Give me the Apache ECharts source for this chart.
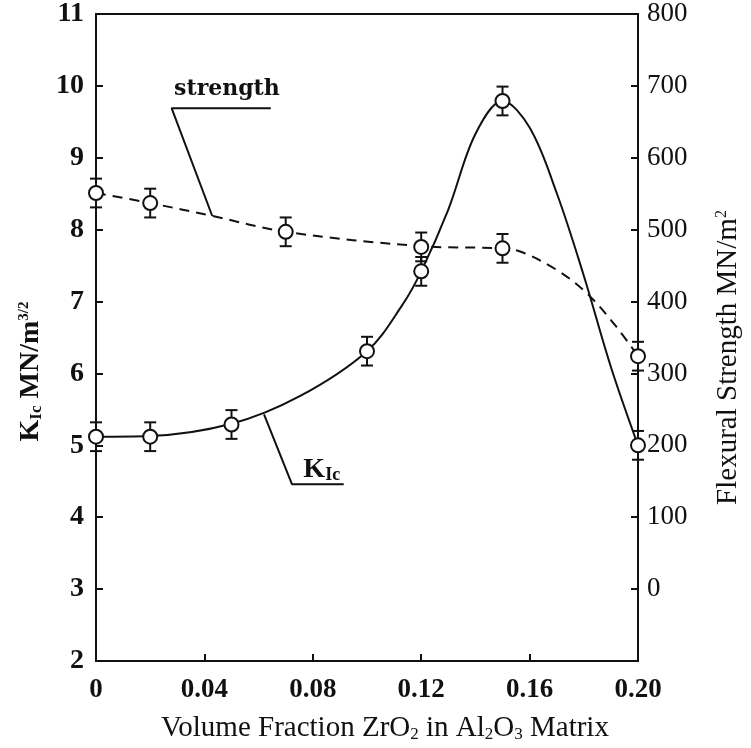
<!DOCTYPE html>
<html>
<head>
<meta charset="utf-8">
<script src="https://cdn.jsdelivr.net/npm/echarts@6/dist/echarts.min.js"></script>
<style>
html, body { margin: 0; padding: 0; background: #fff; }
#box { width: 751px; height: 748px; }
</style>
</head>
<body>
<div id="box"></div>
<script>
// measured points, x = volume fraction ZrO2
var kicX = [0, 0.02, 0.05, 0.10, 0.12, 0.15, 0.20]
var kicY = [5.12, 5.12, 5.29, 6.31, 7.42, 9.79, 5.0]
var kicErr = [0.2, 0.2, 0.2, 0.2, 0.2, 0.2, 0.2]
var strX = [0, 0.02, 0.07, 0.12, 0.15, 0.20]
var strY = [551, 537, 497, 476, 474, 324]
var strErr = [20, 20, 20, 20, 20, 20]
// the hand drawn curves
var kicCurveX = [0, 0.02, 0.05, 0.075, 0.10, 0.113, 0.12, 0.13, 0.14, 0.15, 0.16, 0.17, 0.18, 0.19, 0.20]
var kicCurveY = [5.12, 5.13, 5.30, 5.68, 6.31, 6.95, 7.42, 8.28, 9.33, 9.79, 9.42, 8.51, 7.36, 6.09, 5.0]
var strCurveX = [0, 0.02, 0.043, 0.07, 0.12, 0.15, 0.157, 0.17, 0.181, 0.192, 0.20]
var strCurveY = [551, 537, 519, 497, 477, 474, 469, 444, 412, 365, 324]
// leader lines for the two curve labels (x, KIc units)
var strLeader = [[0.0645, 9.69], [0.0279, 9.69], [0.0429, 8.19]]
var kicLeader = [[0.062, 5.43], [0.0723, 4.46], [0.0914, 4.46]]
var strLabelAt = [0.029, 9.95]
var kicLabelAt = [0.0767, 4.65]

var FONT = 'Liberation Serif'
var INK = '#111'

function zip(xs, ys) {
  return xs.map(function (x, i) { return [x, ys[i]] })
}
function errData(xs, ys, es) {
  return xs.map(function (x, i) { return [x, ys[i] - es[i], ys[i] + es[i]] })
}
function errBar(params, api) {
  var x = api.value(0)
  var lo = api.coord([x, api.value(1)])
  var hi = api.coord([x, api.value(2)])
  var w = 6
  var st = { stroke: INK, lineWidth: 2 }
  return {
    type: 'group',
    children: [
      { type: 'line', shape: { x1: hi[0], y1: hi[1], x2: lo[0], y2: lo[1] }, style: st },
      { type: 'line', shape: { x1: hi[0] - w, y1: hi[1], x2: hi[0] + w, y2: hi[1] }, style: st },
      { type: 'line', shape: { x1: lo[0] - w, y1: lo[1], x2: lo[0] + w, y2: lo[1] }, style: st }
    ]
  }
}

var markerStyle = { color: '#fff', borderColor: INK, borderWidth: 2, opacity: 1 }

var option = {
  animation: false,
  backgroundColor: '#fff',
  grid: {
    left: 96, right: 110, top: 14, bottom: 86,
    show: true, borderColor: INK, borderWidth: 2
  },
  xAxis: {
    type: 'value', min: 0, max: 0.2, interval: 0.04,
    axisLine: { onZero: false, lineStyle: { color: INK, width: 2 } },
    axisTick: { inside: true, length: 7, lineStyle: { color: INK, width: 2 } },
    splitLine: { show: false },
    axisLabel: {
      color: INK, fontFamily: FONT, fontWeight: 'bold', fontSize: 27, margin: 16,
      formatter: function (v) { return v === 0 ? '0' : v.toFixed(2) }
    },
    name: '{t|Volume Fraction ZrO}{s|2}{t| in Al}{s|2}{t|O}{s|3}{t| Matrix}',
    nameLocation: 'middle', nameGap: 53,
    nameTextStyle: {
      padding: [0, 0, 0, 36],
      rich: {
        t: { fontFamily: FONT, fontSize: 29, color: INK },
        s: { fontFamily: FONT, fontSize: 17, color: INK, verticalAlign: 'bottom' }
      }
    }
  },
  yAxis: [
    {
      type: 'value', min: 2, max: 11, interval: 1, position: 'left',
      axisLine: { show: true, lineStyle: { color: INK, width: 2 } },
      axisTick: { show: true, inside: true, length: 7, lineStyle: { color: INK, width: 2 } },
      splitLine: { show: false },
      axisLabel: { color: INK, fontFamily: FONT, fontWeight: 'bold', fontSize: 28, margin: 12 },
      name: '{k|K}{s|Ic}{k| MN/m}{p|3/2}',
      nameLocation: 'middle', nameRotate: 90, nameGap: 50,
      nameTextStyle: {
        padding: [0, 68, 0, 0],
        rich: {
          k: { fontFamily: FONT, fontWeight: 'bold', fontSize: 28, color: INK },
          s: { fontFamily: FONT, fontWeight: 'bold', fontSize: 17, color: INK, verticalAlign: 'bottom' },
          p: { fontFamily: FONT, fontWeight: 'bold', fontSize: 15, color: INK, verticalAlign: 'top' }
        }
      }
    },
    {
      type: 'value', min: -100, max: 800, interval: 100, position: 'right',
      axisLine: { show: true, lineStyle: { color: INK, width: 2 } },
      axisTick: { show: true, inside: true, length: 7, lineStyle: { color: INK, width: 2 } },
      splitLine: { show: false },
      axisLabel: {
        color: INK, fontFamily: FONT, fontSize: 27, margin: 9,
        formatter: function (v) { return v < 0 ? '' : String(v) }
      },
      name: '{t|Flexural Strength MN/m}{p|2}',
      nameLocation: 'middle', nameRotate: 90, nameGap: 76,
      nameTextStyle: {
        padding: [0, 40, 0, 0],
        rich: {
          t: { fontFamily: FONT, fontSize: 29, color: INK },
          p: { fontFamily: FONT, fontSize: 16, color: INK, verticalAlign: 'top' }
        }
      }
    }
  ],
  series: [
    {
      name: 'KIc curve', type: 'line', yAxisIndex: 0, smooth: 0.35, symbol: 'none', silent: true,
      lineStyle: { color: INK, width: 2 },
      data: zip(kicCurveX, kicCurveY)
    },
    {
      name: 'strength curve', type: 'line', yAxisIndex: 1, smooth: 0.35, symbol: 'none', silent: true,
      lineStyle: { color: INK, width: 2, type: [10, 7] },
      data: zip(strCurveX, strCurveY)
    },
    {
      type: 'custom', yAxisIndex: 0, renderItem: errBar, silent: true, z: 3,
      data: errData(kicX, kicY, kicErr)
    },
    {
      type: 'custom', yAxisIndex: 1, renderItem: errBar, silent: true, z: 3,
      data: errData(strX, strY, strErr)
    },
    {
      name: 'KIc', type: 'scatter', yAxisIndex: 0, symbol: 'circle', symbolSize: 14, z: 5, clip: false,
      itemStyle: markerStyle, data: zip(kicX, kicY)
    },
    {
      name: 'strength', type: 'scatter', yAxisIndex: 1, symbol: 'circle', symbolSize: 14, z: 5, clip: false,
      itemStyle: markerStyle, data: zip(strX, strY)
    },
    // curve labels with their leader lines
    {
      type: 'line', yAxisIndex: 0, symbol: 'none', silent: true,
      lineStyle: { color: INK, width: 2 }, data: strLeader
    },
    {
      type: 'line', yAxisIndex: 0, symbol: 'none', silent: true,
      lineStyle: { color: INK, width: 2 }, data: kicLeader
    },
    {
      type: 'scatter', yAxisIndex: 0, symbolSize: 1, silent: true, z: 6,
      itemStyle: { color: 'rgba(0,0,0,0)', opacity: 1 },
      label: {
        show: true, position: [0, 0], align: 'left', verticalAlign: 'middle',
        formatter: 'strength', color: INK, opacity: 1,
        fontFamily: 'DejaVu Serif', fontWeight: 'bold', fontSize: 22
      },
      data: [strLabelAt]
    },
    {
      type: 'scatter', yAxisIndex: 0, symbolSize: 1, silent: true, z: 6,
      itemStyle: { color: 'rgba(0,0,0,0)', opacity: 1 },
      label: {
        show: true, position: [0, 0], align: 'left', verticalAlign: 'middle', opacity: 1,
        formatter: '{k|K}{s|Ic}',
        rich: {
          k: { fontFamily: FONT, fontWeight: 'bold', fontSize: 28, color: INK },
          s: { fontFamily: FONT, fontWeight: 'bold', fontSize: 18, color: INK, verticalAlign: 'bottom' }
        }
      },
      data: [kicLabelAt]
    }
  ]
}

var chart = echarts.init(document.getElementById('box'))
chart.setOption(option)
</script>
</body>
</html>
